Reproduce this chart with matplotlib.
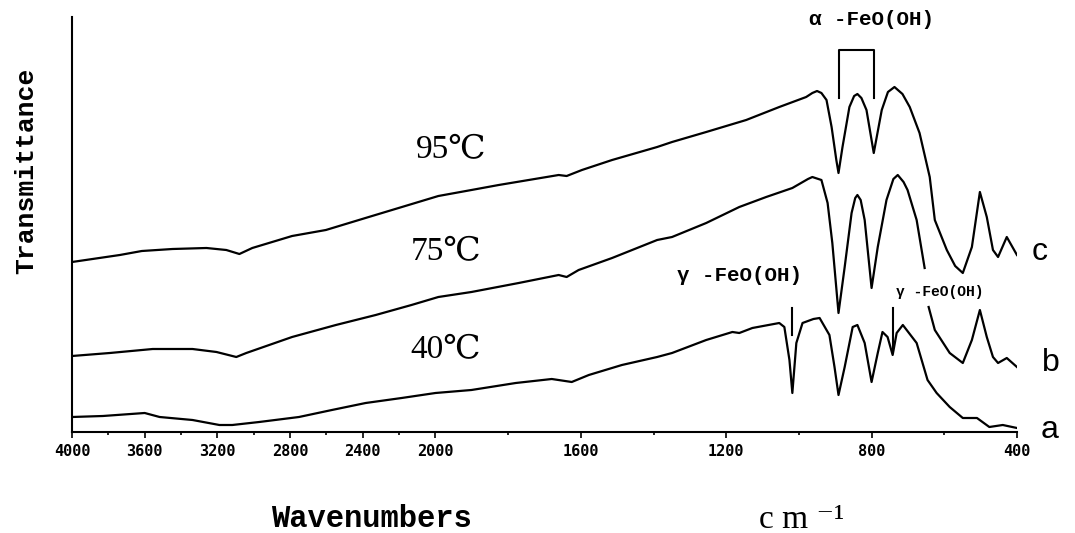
import numpy as np
import matplotlib
matplotlib.use("Agg")
import matplotlib.pyplot as plt

# spectra: wavenumber (cm-1) and transmittance (arbitrary units)
wn_c = [4000, 3737, 3616, 3447, 3260, 3151, 3079, 3008, 2789, 2603, 2367, 1992, 1901,
        1826, 1661, 1639, 1597, 1514, 1390, 1349, 1255, 1145, 1054, 980, 963, 950, 938, 924, 910,
        897, 891, 880, 861, 848, 839, 828, 814, 794, 772, 755, 737, 715, 695, 668, 640, 626, 593, 570, 549, 524,
        502, 483, 466, 452, 428, 400]
t_c = [170, 177, 181, 183, 184, 182, 178, 184, 196, 202, 215, 236, 242,
       247, 257, 256, 262, 272, 285, 290, 300, 312, 325, 335, 339, 341, 339, 332, 305,
       272, 259, 285, 325, 336, 338, 334, 322, 279, 322, 340, 345, 338, 325, 299, 255, 212, 182, 166, 159, 185,
       240, 215, 182, 175, 195, 177]

wn_b = [4000, 3792, 3556, 3337, 3205, 3096, 3041, 2789, 2548, 2329, 2132, 1992, 1901,
        1771, 1661, 1639, 1606, 1514, 1390, 1349, 1255, 1164, 1090, 1018, 975, 963, 938, 921,
        908, 891, 874, 855, 845, 839, 830, 819, 800, 783, 759, 740, 728, 712, 701, 676, 654, np.nan,
        643, 626, 585, 549, 524, 502, 483, 466, 452, 428, 400]
t_b = [76, 79, 83, 83, 80, 75, 79, 95, 107, 117, 127, 135, 140,
       149, 157, 155, 162, 174, 192, 195, 209, 225, 235, 244, 253, 255, 252, 229,
       189, 119, 165, 219, 234, 237, 232, 212, 144, 185, 232, 253, 257, 250, 242, 212, 164, np.nan,
       125, 102, 79, 69, 92, 122, 95, 75, 69, 74, 65]

wn_a = [4000, 3830, 3600, 3518, 3337, 3189, 3118, 2970, 2751, 2570, 2384, 2186, 2000,
        1901, 1779, 1680, 1625, 1578, 1487, 1390, 1349, 1255, 1183, 1164, 1128, 1054,
        1040, 1026, 1018, 1007, 990, 960, 943, 916, 902, 891, 874, 852, 839, 819, 800, 783,
        770, 756, 742, 731, 714, 676, 646, 621, 585, 549, 510, 476, 439, 400]
t_a = [15, 16, 19, 15, 12, 7, 7, 10, 15, 22, 29, 34, 39,
       42, 49, 53, 50, 57, 67, 75, 79, 92, 100, 99, 104, 109,
       105, 72, 39, 89, 109, 113, 114, 97, 65, 37, 65, 105, 107, 89, 50, 79,
       100, 95, 77, 99, 107, 89, 52, 39, 25, 14, 14, 5, 7, 4]

temp_labels = ["95℃", "75℃", "40℃"]
curve_names = ["c", "b", "a"]
alpha_bands = [891, 794]
gamma_bands = [1020, 742]
xticks = list(range(4000, 399, -400))


def fwd(w):
    w = np.asarray(w, dtype=float)
    return np.where(w > 2000, 2000 + (w - 2000) * 0.5, w)


def inv(u):
    u = np.asarray(u, dtype=float)
    return np.where(u > 2000, 2000 + (u - 2000) * 2.0, u)


fig = plt.figure(figsize=(10.75, 5.33), dpi=100)
ax = fig.add_axes([0.067, 0.1895, 0.879, 0.7786])

for wn, t in [(wn_c, t_c), (wn_b, t_b), (wn_a, t_a)]:
    ax.plot(wn, t, color="black", lw=1.6)

ax.set_xscale("function", functions=(fwd, inv))
ax.set_xlim(4000, 400)
ax.set_ylim(0, 415)

for s in ["top", "right"]:
    ax.spines[s].set_visible(False)
ax.spines["left"].set_linewidth(1.5)
ax.spines["bottom"].set_linewidth(1.5)
ax.set_yticks([])
ax.set_xticks(xticks)
ax.set_xticklabels([str(v) for v in xticks])
ax.set_xticks(list(range(3800, 500, -400)), minor=True)
ax.tick_params(axis="x", which="major", direction="out", length=4, width=1.2, pad=5)
ax.tick_params(axis="x", which="minor", direction="out", length=2.5, width=1.2)
for lab in ax.get_xticklabels():
    lab.set_family("DejaVu Sans Mono")
    lab.set_fontweight("bold")
    lab.set_fontsize(11)

# alpha-FeO(OH) bracket
ax.plot([alpha_bands[0], alpha_bands[0], alpha_bands[1], alpha_bands[1]],
        [334, 382, 382, 334], color="black", lw=1.5, clip_on=False)
ax.text(800, 413, "α -FeO(OH)", ha="center", va="center", fontsize=15,
        family=["Liberation Mono", "DejaVu Sans Mono"], fontweight="bold")

# gamma-FeO(OH) markers
ax.plot([gamma_bands[0], gamma_bands[0]], [97, 124], color="black", lw=1.5)
ax.plot([gamma_bands[1], gamma_bands[1]], [82, 124], color="black", lw=1.5)
ax.text(1164, 156, "γ -FeO(OH)", ha="center", va="center", fontsize=15,
        family=["Liberation Mono", "DejaVu Sans Mono"], fontweight="bold")
ax.text(612, 140, "γ -FeO(OH)", ha="center", va="center", fontsize=10.5,
        family=["Liberation Mono", "DejaVu Sans Mono"], fontweight="bold")

# temperature labels
for lab, (x, y) in zip(temp_labels, [(1956, 282), (1970, 180), (1972, 82)]):
    ax.text(x, y, lab, ha="center", va="center", fontsize=24,
            family=["Liberation Serif", "DejaVu Serif"])

# curve letters
for lab, (x, y) in zip(curve_names, [(337, 180), (306, 69), (309, 2)]):
    ax.text(x, y, lab, ha="center", va="center", fontsize=23,
            family="Liberation Sans", clip_on=False)

fig.text(371 / 1075, 1 - 527 / 533, "Wavenumbers", ha="center", va="baseline",
         fontsize=22, family="Liberation Mono", fontweight="bold")
fig.text(802 / 1075, 1 - 528 / 533, "c m ⁻¹", ha="center", va="baseline",
         fontsize=24, family=["Liberation Serif", "DejaVu Serif"])
fig.text(26 / 1075, 1 - 171 / 533, "Transmittance", ha="center", va="center",
         rotation=90, fontsize=19, family="Liberation Mono", fontweight="bold")

fig.savefig("out.png", dpi=100)
